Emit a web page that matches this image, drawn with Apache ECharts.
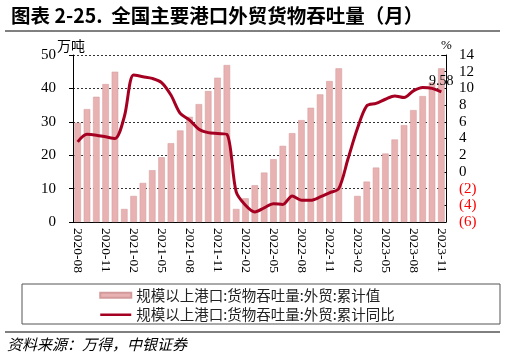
<!DOCTYPE html>
<html><head><meta charset="utf-8">
<script src="https://cdn.jsdelivr.net/npm/echarts@6/dist/echarts.min.js"></script>
<style>html,body{margin:0;padding:0;background:#fff}#c{width:505px;height:359px}</style>
</head><body><div id="c"></div>
<script>
var categories = ['2020-08','2020-09','2020-10','2020-11','2020-12',
'2021-01','2021-02','2021-03','2021-04','2021-05','2021-06','2021-07','2021-08','2021-09','2021-10','2021-11','2021-12',
'2022-01','2022-02','2022-03','2022-04','2022-05','2022-06','2022-07','2022-08','2022-09','2022-10','2022-11','2022-12',
'2023-01','2023-02','2023-03','2023-04','2023-05','2023-06','2023-07','2023-08','2023-09','2023-10','2023-11'];
var cumValue = [29.7,33.8,37.5,41.3,45.0,
3.9,7.8,11.7,15.5,19.4,23.6,27.4,31.5,35.3,39.2,43.2,47.0,
3.9,7.1,11.0,14.8,18.8,22.8,26.6,30.5,34.2,38.2,42.2,46.0,
null,7.8,12.1,16.3,20.5,24.7,29.0,33.5,37.7,41.8,46.0];
var cumYoY = [3.6,4.5,4.4,4.2,4.0,
6.6,11.6,11.4,11.2,10.7,9.2,7.0,6.2,5.1,4.7,4.6,4.5,
-2.4,-4.0,-4.8,-4.3,-3.8,-3.9,-2.9,-3.4,-3.4,-3.0,-2.5,-2.0,
1.6,5.2,7.9,8.2,8.7,9.1,8.9,9.7,10.1,10.0,9.58];
var leftTicks = {min:0, max:50, interval:10};
var rightTicks = {min:-6, max:14, interval:2};
var seriesNames = ['规模以上港口:货物吞吐量:外贸:累计值','规模以上港口:货物吞吐量:外贸:累计同比'];

var serif = '"Liberation Serif","Noto Sans CJK SC",serif';
var cjk = '"Noto Sans CJK SC",sans-serif';
var chart = echarts.init(document.getElementById('c'));
chart.setOption({
  animation:false,
  grid:{left:73,right:59,top:55,bottom:137},
  title:{text:'图表 2-25.  全国主要港口外贸货物吞吐量（月）',left:6,top:1,
    textStyle:{fontFamily:cjk,fontSize:19.5,fontWeight:'bold',color:'#000'}},
  legend:{orient:'vertical',left:99,top:288,padding:0,itemGap:5,itemWidth:31,itemHeight:5,
    textStyle:{fontFamily:cjk,fontSize:14.5,color:'#222'},
    data:[{name:seriesNames[0],icon:'rect'},
          {name:seriesNames[1],itemStyle:{opacity:0},lineStyle:{width:2.5}}]},
  graphic:[
    {type:'line',shape:{x1:5,y1:31,x2:500,y2:31},style:{stroke:'#000',lineWidth:1}},
    {type:'rect',shape:{x:22,y:284,width:478,height:40},style:{fill:'none',stroke:'#555',lineWidth:1}},
    {type:'line',shape:{x1:5,y1:332,x2:500,y2:332},style:{stroke:'#000',lineWidth:1}},
    {type:'text',left:7,top:337,style:{text:'资料来源：万得，中银证券',font:'italic 15px "Noto Sans CJK SC"',fill:'#000'}},
    {type:'text',left:57,top:39,style:{text:'万吨',font:'14px "Noto Sans CJK SC"',fill:'#000'}},
    {type:'text',left:441,top:39,style:{text:'%',font:'13px "Liberation Serif"',fill:'#000'}}
  ],
  xAxis:{type:'category',data:categories,boundaryGap:true,
    axisLine:{lineStyle:{color:'#000',width:1}},
    axisTick:{interval:2,alignWithLabel:true,length:4,lineStyle:{color:'#000'}},
    axisLabel:{interval:2,rotate:-90,fontFamily:serif,fontSize:13.5,color:'#000',margin:6}},
  yAxis:[
    {type:'value',min:leftTicks.min,max:leftTicks.max,interval:leftTicks.interval,
     axisLine:{show:true,lineStyle:{color:'#000'}},
     axisTick:{show:true,length:4,lineStyle:{color:'#000'}},
     axisLabel:{fontFamily:serif,fontSize:15,color:'#000',margin:17},
     splitLine:{show:true,lineStyle:{color:'#000',type:[2,2],width:0.8}}},
    {type:'value',min:rightTicks.min,max:rightTicks.max,interval:rightTicks.interval,position:'right',
     axisLine:{show:true,lineStyle:{color:'#000'}},
     axisTick:{show:true,inside:true,length:4,lineStyle:{color:'#000'}},
     splitLine:{show:false},
     axisLabel:{fontFamily:serif,fontSize:15,margin:13,
       formatter:function(v){return v<0?'('+Math.abs(v)+')':String(v);},
       color:function(v){return Number(v)<0?'#ff0000':'#000';}}}
  ],
  series:[
    {name:seriesNames[0],type:'bar',data:cumValue,barWidth:'70%',
     itemStyle:{color:'#E8B2B2',borderColor:'#D29A9A',borderWidth:0.5}},
    {name:seriesNames[1],type:'line',yAxisIndex:1,data:cumYoY,smooth:0.3,symbol:'none',
     lineStyle:{color:'#A50021',width:3},itemStyle:{color:'#A50021'},
     markPoint:{symbol:'circle',symbolSize:0,
       data:[{coord:[categories.length-1,cumYoY[cumYoY.length-1]],value:cumYoY[cumYoY.length-1]}],
       label:{show:true,position:'top',distance:4,formatter:function(p){return p.value;},fontFamily:serif,fontSize:14,color:'#000'}}}
  ]
});
</script></body></html>
